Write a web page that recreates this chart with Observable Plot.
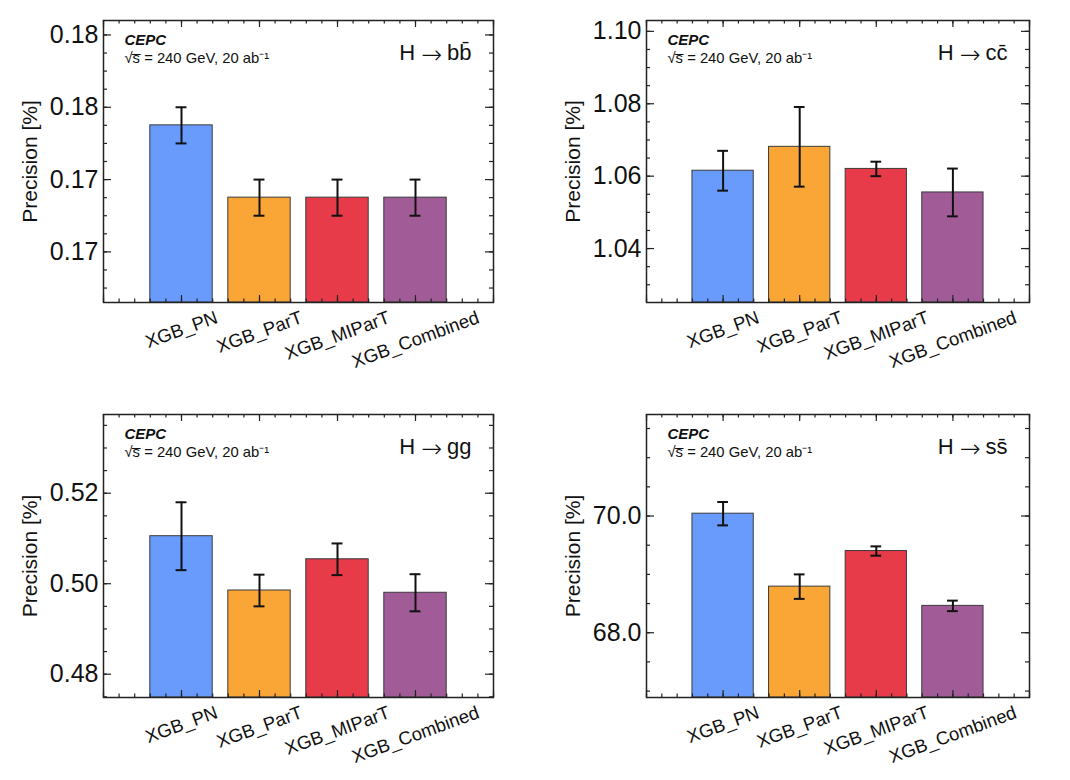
<!DOCTYPE html>
<html><head><meta charset="utf-8">
<script src="https://cdn.jsdelivr.net/npm/d3@7"></script>
<script src="https://cdn.jsdelivr.net/npm/@observablehq/plot@0.6"></script>
<style>
body{margin:0;background:#fff;}
#wrap{position:relative;width:1070px;height:780px;font-family:"Liberation Sans",Arial,sans-serif;}
.panel{position:absolute;}
</style></head><body><div id="wrap"></div>
<script>
// ---- data ----
const categories = ["XGB_PN", "XGB_ParT", "XGB_MIParT", "XGB_Combined"];
const colors = ["#689BFC", "#F9A636", "#E73B4A", "#A15C97"];

const bbValues = [0.1755, 0.1735, 0.1735, 0.1735];
const bbErrors = [0.0005, 0.0005, 0.0005, 0.0005];
const bbTicks = [0.172, 0.174, 0.176, 0.178];

const ccValues = [1.0615, 1.0681, 1.0620, 1.0555];
const ccErrors = [0.0055, 0.0110, 0.0020, 0.0066];
const ccTicks = [1.04, 1.06, 1.08, 1.10];

const ggValues = [0.5105, 0.4985, 0.5054, 0.4980];
const ggErrors = [0.0075, 0.0035, 0.0035, 0.0041];
const ggTicks = [0.48, 0.50, 0.52];

const ssValues = [70.04, 68.79, 69.40, 68.46];
const ssErrors = [0.20, 0.21, 0.08, 0.09];
const ssTicks = [68.0, 70.0];

const decayParent = "H";
const decayArrow = "\u2192";
const decayProducts = ["bb\u0304", "cc\u0304", "gg", "ss\u0304"];
const expLabel = "CEPC";
const energyLabel = "\u221As\u0305 = 240 GeV, 20 ab\u207B\u00B9";
const yLabel = "Precision [%]";

// ---- layout ----
const W = 535, H = 390;
const FONT = "'Liberation Sans', Arial, sans-serif";
const canvas = document.createElement("canvas");
const ctx = canvas.getContext("2d");
function textWidth(s, font) { ctx.font = font; return ctx.measureText(s).width; }
const rot = 20 * Math.PI / 180;

function panel(cfg) {
  const {product, values, errors, yDomain, ticks, minorStep, fmt, left, top, mL, mR, mT, mB} = cfg;
  const fw = W - mL - mR, fh = H - mT - mB;
  const data = categories.map((name, i) => ({name, i, value: values[i], err: errors[i], color: colors[i]}));
  const k0 = Math.ceil(yDomain[0] / minorStep - 1e-9), k1 = Math.floor(yDomain[1] / minorStep + 1e-9);
  const yMinor = d3.range(k0, k1 + 1).map(k => k * minorStep);
  const xMajor = d3.range(-1, 5);
  const xMinor = d3.range(-5, 21).map(k => k * 0.2);
  const tickStyle = {stroke: "#222", strokeWidth: 1.2};

  const labelMarks = categories.map((c, i) => {
    const w = textWidth(c, "18.5px 'Liberation Sans'");
    const dy = 5 + (w * Math.sin(rot) + 20 * Math.cos(rot)) / 2;
    return Plot.text([c], {x: () => i, text: d => d, frameAnchor: "bottom", dy, rotate: -20,
      textAnchor: "middle", lineAnchor: "middle", fontSize: 18.5, fill: "#111"});
  });

  // title pieces, right-aligned
  const wProd = textWidth(product, "22px 'Liberation Sans'");
  const wArrow = textWidth(decayArrow, "25px 'DejaVu Sans'");
  const xProd = -22, xArrow = xProd - wProd - 5, xH = xArrow - wArrow - 6;
  const titleCommon = {frameAnchor: "top-right", dy: 39.5, textAnchor: "end", lineAnchor: "bottom", fill: "#111"};

  const chart = Plot.plot({
    width: W, height: H,
    marginLeft: mL, marginRight: mR, marginTop: mT, marginBottom: mB,
    style: {fontFamily: FONT, background: "transparent", overflow: "visible"},
    x: {domain: [-1, 4], axis: null},
    y: {domain: yDomain},
    marks: [
      Plot.rectY(data, {x1: d => d.i - 0.4, x2: d => d.i + 0.4, y1: yDomain[0], y2: "value",
        fill: "color", stroke: "#3a3a3a", strokeWidth: 1}),
      Plot.ruleX(data, {x: "i", y1: d => d.value - d.err, y2: d => d.value + d.err, stroke: "#111", strokeWidth: 2}),
      Plot.ruleY(data, {y: d => d.value + d.err, x1: d => d.i - 0.07, x2: d => d.i + 0.07, stroke: "#111", strokeWidth: 2}),
      Plot.ruleY(data, {y: d => d.value - d.err, x1: d => d.i - 0.07, x2: d => d.i + 0.07, stroke: "#111", strokeWidth: 2}),
      // inward ticks
      Plot.tickY(yMinor, {y: d => d, insetRight: fw - 4, ...tickStyle}),
      Plot.tickY(yMinor, {y: d => d, insetLeft: fw - 4, ...tickStyle}),
      Plot.tickY(ticks, {y: d => d, insetRight: fw - 8, ...tickStyle}),
      Plot.tickY(ticks, {y: d => d, insetLeft: fw - 8, ...tickStyle}),
      Plot.tickX(xMinor, {x: d => d, insetTop: fh - 3.5, ...tickStyle}),
      Plot.tickX(xMinor, {x: d => d, insetBottom: fh - 3.5, ...tickStyle}),
      Plot.tickX(xMajor, {x: d => d, insetTop: fh - 7, ...tickStyle}),
      Plot.tickX(xMajor, {x: d => d, insetBottom: fh - 7, ...tickStyle}),
      Plot.frame({stroke: "#222", strokeWidth: 1.5}),
      Plot.axisY({ticks, tickFormat: fmt, tickSize: 0, tickPadding: 5, fontSize: 25, label: null, fill: "#111"}),
      ...labelMarks,
      Plot.text([yLabel], {frameAnchor: "left", dx: -73, rotate: -90, textAnchor: "middle", lineAnchor: "middle", fontSize: 21, fill: "#111"}),
      Plot.text([expLabel], {frameAnchor: "top-left", dx: 21, dy: 24.5, textAnchor: "start", lineAnchor: "bottom", fontSize: 15, fontWeight: "bold", fontStyle: "italic", fill: "#111"}),
      Plot.text([energyLabel], {frameAnchor: "top-left", dx: 21, dy: 42.5, textAnchor: "start", lineAnchor: "bottom", fontSize: 14.8, fill: "#111"}),
      Plot.text([product], {...titleCommon, dx: xProd, fontSize: 22}),
      Plot.text([decayArrow], {...titleCommon, dx: xArrow, dy: 42, fontSize: 25, fontFamily: "DejaVu Sans", fontWeight: 200}),
      Plot.text([decayParent], {...titleCommon, dx: xH, fontSize: 22})
    ]
  });
  const div = document.createElement("div");
  div.className = "panel";
  div.style.left = left + "px";
  div.style.top = top + "px";
  div.appendChild(chart);
  document.getElementById("wrap").appendChild(div);
}

panel({product: decayProducts[0], values: bbValues, errors: bbErrors, yDomain: [0.1706, 0.1784], ticks: bbTicks, minorStep: 0.0005,
  fmt: d3.format(".2f"), left: 0, top: 0, mL: 103, mR: 42, mT: 20, mB: 88});
panel({product: decayProducts[1], values: ccValues, errors: ccErrors, yDomain: [1.0251, 1.1030], ticks: ccTicks, minorStep: 0.005,
  fmt: d3.format(".2f"), left: 535, top: 0, mL: 111, mR: 41, mT: 20, mB: 88});
panel({product: decayProducts[2], values: ggValues, errors: ggErrors, yDomain: [0.47485, 0.5374], ticks: ggTicks, minorStep: 0.005,
  fmt: d3.format(".2f"), left: 0, top: 390, mL: 103, mR: 42, mT: 24, mB: 83});
panel({product: decayProducts[3], values: ssValues, errors: ssErrors, yDomain: [66.89, 71.74], ticks: ssTicks, minorStep: 0.5,
  fmt: d3.format(".1f"), left: 535, top: 390, mL: 111, mR: 41, mT: 24, mB: 83});
</script></body></html>
